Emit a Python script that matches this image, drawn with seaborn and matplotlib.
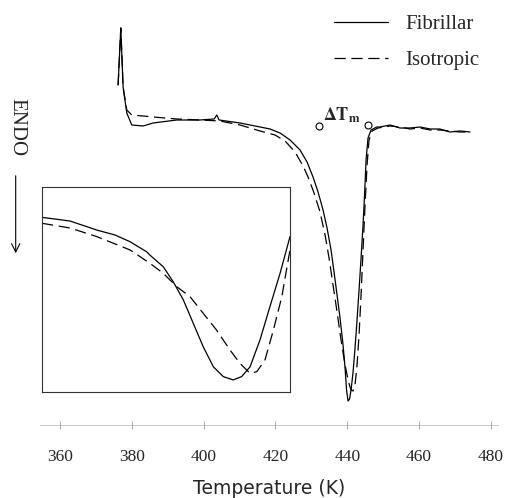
import matplotlib
matplotlib.use("Agg")
import matplotlib.pyplot as plt
import seaborn as sns
import pandas as pd

# main DSC traces (temperature in K, heat flow in arbitrary units)
fib_t = [376.16, 376.91, 377.55, 378.58, 379.97, 383.12, 385.91, 392.51, 399.00, 402.90,
         403.65, 404.29, 410.14, 415.71, 418.50, 421.28, 424.07, 426.85, 428.80, 430.47,
         431.87, 433.26, 434.37, 435.49, 436.32, 437.16, 437.99, 438.83, 439.39, 439.81,
         440.22, 440.64, 441.06, 441.62, 442.17, 442.73, 443.29, 443.85, 444.40, 444.82,
         445.24, 445.79, 446.63, 448.22, 449.1, 451.9, 454.7, 457.5, 460.3, 463.1,
         465.8, 468.6, 471.4, 474.2]
fib_q = [3.40, 3.97, 3.38, 3.12, 3.00, 2.99, 3.02, 3.05, 3.05, 3.06,
         3.10, 3.05, 3.02, 2.98, 2.96, 2.92, 2.85, 2.75, 2.63, 2.48,
         2.33, 2.15, 1.97, 1.75, 1.53, 1.30, 1.07, 0.80, 0.57, 0.35,
         0.24, 0.26, 0.35, 0.53, 0.77, 1.05, 1.35, 1.67, 2.00, 2.30,
         2.65, 2.87, 2.95, 2.98, 2.98, 3.00, 2.97, 2.97, 2.98, 2.96,
         2.96, 2.93, 2.94, 2.93]

iso_t = [376.16, 376.91, 377.55, 378.58, 379.97, 383.12, 386.0, 392.51, 399.0, 404.57,
         410.14, 415.71, 419.89, 422.67, 425.46, 427.69, 429.08, 430.75, 432.42, 433.82,
         434.93, 436.04, 437.16, 438.27, 439.39, 440.36, 441.06, 441.62, 442.17, 442.73,
         443.29, 443.85, 444.40, 444.96, 445.52, 446.07, 446.91, 448.58, 451.9, 454.7,
         457.5, 460.3, 463.1, 465.8, 468.6, 471.4, 474.2]
iso_q = [3.40, 3.97, 3.38, 3.15, 3.10, 3.09, 3.08, 3.06, 3.05, 3.04,
         3.00, 2.94, 2.90, 2.84, 2.73, 2.59, 2.48, 2.32, 2.13, 1.90,
         1.67, 1.40, 1.13, 0.85, 0.60, 0.43, 0.35, 0.34, 0.40, 0.60,
         0.90, 1.30, 1.75, 2.20, 2.60, 2.85, 2.94, 2.97, 2.99, 2.98,
         2.96, 2.97, 2.95, 2.95, 2.94, 2.93, 2.93]

# inset (magnified peak, normalised units)
ins_fib_x = [0.0, 0.113, 0.221, 0.294, 0.355, 0.422, 0.435, 0.489, 0.529, 0.570,
             0.610, 0.650, 0.691, 0.731, 0.771, 0.805, 0.839, 0.879, 0.919, 0.960, 1.0]
ins_fib_y = [0.852, 0.834, 0.790, 0.766, 0.733, 0.684, 0.668, 0.611, 0.538, 0.449,
             0.335, 0.221, 0.123, 0.075, 0.059, 0.075, 0.123, 0.254, 0.416, 0.579, 0.758]
ins_iso_x = [0.0, 0.113, 0.221, 0.355, 0.435, 0.489, 0.543, 0.597, 0.650, 0.704,
             0.758, 0.798, 0.839, 0.866, 0.899, 0.933, 0.967, 1.0]
ins_iso_y = [0.823, 0.800, 0.758, 0.693, 0.628, 0.579, 0.514, 0.465, 0.384, 0.302,
             0.205, 0.140, 0.091, 0.099, 0.156, 0.302, 0.465, 0.693]

x_ticks = [360, 380, 400, 420, 440, 460, 480]
dtm_t = [432.2, 445.7]
dtm_q = [2.99, 3.00]

sns.set_theme(style="white")
plt.rcParams["font.family"] = ["Liberation Serif", "DejaVu Serif"]
plt.rcParams["mathtext.fontset"] = "stix"
plt.rcParams["lines.solid_joinstyle"] = "round"

DASH = (0, (9, 4.5))

fig = plt.figure(figsize=(5.09, 4.98), dpi=100)
ax = fig.add_axes([40 / 509, 73 / 498, 458 / 509, 415 / 498])

fib = pd.DataFrame({"T": fib_t, "Q": fib_q})
iso = pd.DataFrame({"T": iso_t, "Q": iso_q})
sns.lineplot(data=fib, x="T", y="Q", ax=ax, color="black", lw=0.9, sort=False,
             label="Fibrillar")
sns.lineplot(data=iso, x="T", y="Q", ax=ax, color="black", lw=0.9, sort=False,
             linestyle=DASH, label="Isotropic")

ax.set_xlim(354.4, 482.0)
ax.set_ylim(0, 4.15)
ax.set_xticks(x_ticks)
ax.set_yticks([])
ax.set_ylabel("")
for s in ["left", "right", "top"]:
    ax.spines[s].set_visible(False)
ax.spines["bottom"].set_color("#bbbbbb")
ax.spines["bottom"].set_linewidth(0.6)
ax.tick_params(axis="x", direction="inout", length=6, width=0.6, color="#999999",
               labelsize=12.5, pad=14, bottom=True)
ax.set_xlabel("Temperature (K)", family="DejaVu Sans", fontsize=13.5, labelpad=10)

leg = ax.legend(loc="upper right", frameon=False, fontsize=15, handlelength=2.6,
                labelspacing=0.8, bbox_to_anchor=(1.0, 1.035), handletextpad=0.8)
for line in leg.get_lines():
    line.set_linewidth(0.9)

# delta Tm annotation
ax.plot(dtm_t, dtm_q, ls="none", marker="o", ms=5, mfc="white",
        mec="black", mew=0.8)
ax.text(438.6, 3.0, r"$\mathbf{\Delta T}_{\mathbf{m}}$", fontsize=13,
        ha="center", va="bottom")

# ENDO label and arrow
fig.text(17 / 509, 1 - 127 / 498, "ENDO", rotation=270, fontsize=15,
         ha="center", va="center")
fig.add_artist(matplotlib.patches.FancyArrowPatch(
    (15.7 / 509, 1 - 173 / 498), (15.7 / 509, 1 - 256 / 498),
    transform=fig.transFigure, arrowstyle="->,head_length=6,head_width=3",
    color="black", lw=0.8))

# inset
axi = fig.add_axes([42 / 509, 106 / 498, 248 / 509, 205 / 498])
sns.lineplot(x=ins_fib_x, y=ins_fib_y, ax=axi, color="black", lw=0.9, sort=False)
sns.lineplot(x=ins_iso_x, y=ins_iso_y, ax=axi, color="black", lw=0.9, sort=False,
             linestyle=DASH)
axi.set_xlim(0, 1)
axi.set_ylim(0, 1)
axi.set_xticks([])
axi.set_yticks([])
for s in axi.spines.values():
    s.set_color("#333333")
    s.set_linewidth(0.8)

fig.savefig("out.png", dpi=100)
